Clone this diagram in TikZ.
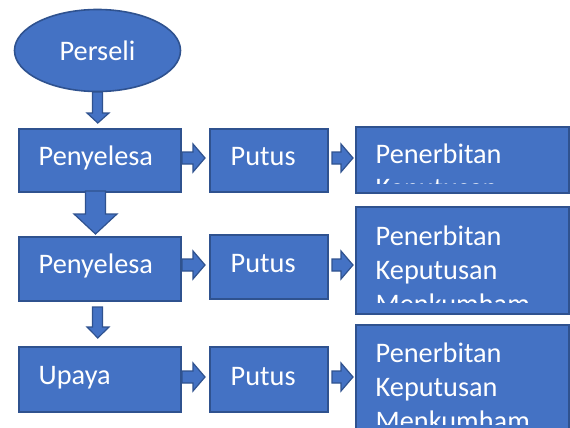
\documentclass[tikz,border=0pt]{standalone}
\usepackage{fontspec}
\setmainfont{Carlito}
\usetikzlibrary{shapes.geometric}
\definecolor{boxfill}{HTML}{4472C4}
\definecolor{boxline}{HTML}{2F528F}
\tikzset{
  box/.style={draw=boxline, fill=boxfill, line width=1.6pt, inner sep=0pt, anchor=north west},
  oval/.style={ellipse, draw=boxline, fill=boxfill, line width=1.6pt, inner sep=0pt},
  txt/.style={text=white, inner sep=0pt, anchor=base west, font=\fontsize{28.3}{34}\selectfont},
  barrow/.style={draw=boxline, fill=boxfill, line width=1.2pt, line join=miter}
}
\newcommand\rarr[3]{% x start, x tip, y centre
  \draw[barrow] (#1,#3-6) -- (#2-12,#3-6) -- (#2-12,#3-14) -- (#2,#3) -- (#2-12,#3+14) -- (#2-12,#3+6) -- (#1,#3+6) -- cycle;}
\begin{document}
\begin{tikzpicture}[x=1pt,y=-1pt]
\useasboundingbox (0,0) rectangle (570,428);
% start ellipse
\node[oval, minimum width=166, minimum height=82] (e) at (97.5,50.5) {};
\node[text=white, inner sep=0pt, font=\fontsize{28.3}{34}\selectfont] (te) at (e.center) {Perseli};
% boxes
\node[box, minimum width=162, minimum height=63] (p1) at (18,128) {};
\node[box, minimum width=118, minimum height=63] (u1) at (209,128) {};
\node[box, minimum width=213, minimum height=66] (r1) at (355,126) {};
\node[box, minimum width=162, minimum height=64] (p2) at (18,236) {};
\node[box, minimum width=118, minimum height=64] (u2) at (209,234) {};
\node[box, minimum width=213, minimum height=107] (r2) at (355,206) {};
\node[box, minimum width=162, minimum height=65] (p3) at (18,346) {};
\node[box, minimum width=118, minimum height=65] (u3) at (209,346) {};
\node[box, minimum width=213, minimum height=120] (r3) at (355,324) {};
% texts
\node[txt] (tp1) at (38.5,165) {Penyelesa};
\node[txt] (tu1) at (230.5,165) {Putus};
\begin{scope}
  \clip (r1.north west) rectangle (568,183);
  \node[txt] (tr1a) at (375.5,163) {Penerbitan};
  \node[txt] (tr1b) at (375.5,197) {Keputusan};
\end{scope}
\node[txt] (tp2) at (38.5,273) {Penyelesa};
\node[txt] (tu2) at (230.5,272) {Putus};
\begin{scope}
  \clip (r2.north west) rectangle (568,302);
  \node[txt] (tr2a) at (375.5,245) {Penerbitan};
  \node[txt] (tr2b) at (375.5,279) {Keputusan};
  \node[txt] (tr2c) at (375.5,313) {Menkumham};
\end{scope}
\node[txt] (tp3) at (38.5,384) {Upaya};
\node[txt] (tu3) at (230.5,385) {Putus};
\begin{scope}
  \clip (r3.north west) rectangle (568,424);
  \node[txt] (tr3a) at (375.5,362) {Penerbitan};
  \node[txt] (tr3b) at (375.5,396) {Keputusan};
  \node[txt] (tr3c) at (375.5,430) {Menkumham};
\end{scope}
% down block arrows
\draw[barrow] (92.5,92) -- (102.5,92) -- (102.5,113) -- (109,113) -- (97.8,123) -- (87,113) -- (92.5,113) -- cycle;
\draw[barrow] (85.5,191) -- (105.5,191) -- (105.5,214) -- (117,214) -- (95.5,234) -- (74,214) -- (85.5,214) -- cycle;
\draw[barrow] (92.5,307) -- (102.5,307) -- (102.5,327) -- (109,327) -- (97.8,338) -- (87,327) -- (92.5,327) -- cycle;
% right block arrows
\rarr{182}{205}{158}
\rarr{332}{353}{158}
\rarr{182}{205}{265}
\rarr{332}{353}{265}
\rarr{182}{205}{377}
\rarr{332}{353}{377}
\end{tikzpicture}
\end{document}
